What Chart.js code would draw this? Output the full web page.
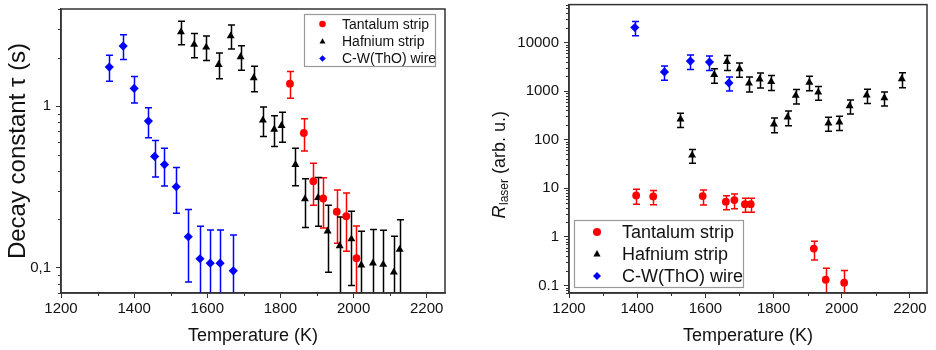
<!DOCTYPE html>
<html>
<head>
<meta charset="utf-8">
<script src="https://cdn.jsdelivr.net/npm/chart.js"></script>
<style>
  html, body { margin: 0; padding: 0; background: #fff; }
  .wrap { display: flex; width: 936px; height: 350px; }
  canvas { display: block; }
</style>
</head>
<body>
<div class="wrap">
  <canvas id="tauChart" width="468" height="350"></canvas>
  <canvas id="laserChart" width="468" height="350"></canvas>
</div>
<script>
// ---- left panel: decay constant tau (s) ----
const tauTaTemp = [1826, 1864, 1890, 1917, 1954, 1980, 2008];
const tauTa     = [1.38, 0.684, 0.344, 0.269, 0.223, 0.209, 0.115];
const tauTaErr  = [0.26, 0.155, 0.10, 0.092, 0.081, 0.082, 0.067];

const tauHfTemp = [1528, 1564, 1597, 1631, 1664, 1691, 1727, 1752, 1783, 1803, 1841, 1867, 1903, 1929, 1962, 1994, 2021, 2053, 2081, 2110, 2126];
const tauHf     = [2.88, 2.41, 2.32, 1.81, 2.72, 2.02, 1.50, 0.82, 0.72, 0.76, 0.436, 0.267, 0.272, 0.169, 0.137, 0.151, 0.104, 0.107, 0.105, 0.094, 0.130];
const tauHfErr  = [0.48, 0.41, 0.40, 0.33, 0.46, 0.35, 0.27, 0.17, 0.155, 0.16, 0.114, 0.089, 0.091, 0.075, 0.07, 0.073, 0.065, 0.066, 0.066, 0.063, 0.069];

const tauWTemp  = [1332, 1370, 1400, 1439, 1456, 1483, 1515, 1548, 1580, 1608, 1635, 1671];
const tauW      = [1.75, 2.36, 1.29, 0.81, 0.49, 0.436, 0.318, 0.156, 0.114, 0.107, 0.107, 0.096];
const tauWErr   = [0.32, 0.41, 0.24, 0.17, 0.125, 0.115, 0.10, 0.074, 0.067, 0.065, 0.065, 0.064];

// ---- right panel: R_laser (arb. u.) ----
const rTaTemp = [1397, 1447, 1592, 1660, 1685, 1716, 1733, 1918, 1953, 2007];
const rTa     = [7.1, 6.8, 6.9, 5.3, 5.7, 4.7, 4.7, 0.573, 0.131, 0.114];
const rTaErr  = [2.4, 2.2, 2.35, 1.7, 1.9, 1.5, 1.5, 0.24, 0.095, 0.09];

const rHfTemp = [1527, 1561, 1626, 1663, 1700, 1728, 1759, 1793, 1801, 1841, 1865, 1905, 1931, 1961, 1993, 2023, 2073, 2125, 2176];
const rHf     = [264, 47.6, 2170, 4020, 2850, 1445, 1750, 1560, 209, 290, 808, 1510, 944, 219, 229, 495, 820, 722, 1775];
const rHfErr  = [87, 15, 720, 1370, 940, 490, 600, 530, 70, 98, 265, 500, 300, 70, 74, 160, 265, 232, 600];

const rWTemp  = [1393, 1480, 1556, 1612, 1669];
const rW      = [20300, 2470, 4140, 3950, 1470];
const rWErr   = [6500, 800, 1370, 1300, 470];

// ---- axes ----
const seriesNames = ['Tantalum strip', 'Hafnium strip', 'C-W(ThO) wire'];
const xTicks = [1200, 1400, 1600, 1800, 2000, 2200];
const tauTicks = [0.1, 1];
const tauTickLabels = ['0,1', '1'];
const rTicks = [0.1, 1, 10, 100, 1000, 10000];
const rTickLabels = ['0.1', '1', '10', '100', '1000', '10000'];

const FONT = 'Liberation Sans, Arial, sans-serif';
const AXIS = '#333';
const colors = ['#ff0000', '#000000', '#0000ff'];
const shapes = ['circle', 'triangle', 'rectRot'];

function pts(xs, ys) { return xs.map((x, i) => ({ x: x, y: ys[i] })); }

function makeSets(list) {
  return list.map((s, i) => ({
    label: seriesNames[i],
    data: pts(s[0], s[1]),
    errors: s[2],
    pointStyle: shapes[i],
    pointRadius: i === 0 ? 3.9 : 4.6,
    backgroundColor: colors[i],
    borderColor: colors[i],
    borderWidth: 0,
    showLine: false
  }));
}

// error bars drawn under the markers, through the chart's scales
const errorBars = {
  id: 'errorBars',
  beforeDatasetsDraw(chart) {
    const ctx = chart.ctx, area = chart.chartArea;
    const xs = chart.scales.x, ys = chart.scales.y;
    ctx.save();
    ctx.beginPath();
    ctx.rect(area.left, area.top, area.right - area.left, area.bottom - area.top);
    ctx.clip();
    ctx.lineWidth = 1.5;
    chart.data.datasets.forEach(ds => {
      ctx.strokeStyle = ds.borderColor;
      ds.data.forEach((p, i) => {
        const e = ds.errors[i];
        const px = Math.round(xs.getPixelForValue(p.x)) + 0.5;
        const top = ys.getPixelForValue(p.y + e);
        const lo = p.y - e;
        const bot = lo > 0 ? ys.getPixelForValue(lo) : area.bottom + 20;
        ctx.beginPath();
        ctx.moveTo(px, top); ctx.lineTo(px, bot);
        ctx.moveTo(px - 3.5, top); ctx.lineTo(px + 3.5, top);
        ctx.moveTo(px - 3.5, bot); ctx.lineTo(px + 3.5, bot);
        ctx.stroke();
      });
    });
    ctx.restore();
  }
};

// frame and minor ticks
const frame = {
  id: 'frame',
  afterDraw(chart) {
    const ctx = chart.ctx, a = chart.chartArea;
    const xs = chart.scales.x, ys = chart.scales.y;
    ctx.save();
    ctx.strokeStyle = AXIS;
    ctx.lineWidth = 1.5;
    ctx.strokeRect(a.left, a.top, a.right - a.left, a.bottom - a.top);
    ctx.lineWidth = 1;
    ctx.beginPath();
    for (let v = 1300; v < xs.max; v += 200) {
      const px = Math.round(xs.getPixelForValue(v)) + 0.5;
      ctx.moveTo(px, a.bottom); ctx.lineTo(px, a.bottom + 3);
    }
    for (let k = -2; k <= 5; k++) {
      for (let m = 2; m <= 9; m++) {
        const v = m * Math.pow(10, k);
        if (v < ys.min || v > ys.max) continue;
        const py = Math.round(ys.getPixelForValue(v)) + 0.5;
        ctx.moveTo(a.left - 3, py); ctx.lineTo(a.left, py);
      }
    }
    ctx.stroke();
    ctx.restore();
  }
};

function drawMarker(ctx, shape, x, y, r) {
  ctx.beginPath();
  if (shape === 'circle') {
    ctx.arc(x, y, r, 0, Math.PI * 2);
  } else if (shape === 'triangle') {
    ctx.moveTo(x, y - r);
    ctx.lineTo(x + r * 0.9, y + r * 0.6);
    ctx.lineTo(x - r * 0.9, y + r * 0.6);
    ctx.closePath();
  } else {
    ctx.moveTo(x, y - r); ctx.lineTo(x + r, y); ctx.lineTo(x, y + r); ctx.lineTo(x - r, y);
    ctx.closePath();
  }
  ctx.fill();
}

function legendBox(cfg) {
  return {
    id: 'legendBox',
    afterDraw(chart) {
      const ctx = chart.ctx;
      ctx.save();
      ctx.fillStyle = '#fff';
      ctx.fillRect(cfg.x, cfg.y, cfg.w, cfg.h);
      ctx.strokeStyle = '#999';
      ctx.lineWidth = 1.2;
      ctx.strokeRect(cfg.x + 0.5, cfg.y + 0.5, cfg.w, cfg.h);
      ctx.font = cfg.size + 'px ' + FONT;
      ctx.textBaseline = 'middle';
      seriesNames.forEach((name, i) => {
        const y = cfg.rows[i];
        ctx.fillStyle = colors[i];
        drawMarker(ctx, shapes[i], cfg.mx, y, cfg.r);
        ctx.fillStyle = '#111';
        ctx.fillText(name, cfg.tx, y + 1);
      });
      ctx.restore();
    }
  };
}

// y title with subscript for the right panel
const rTitle = {
  id: 'rTitle',
  afterDraw(chart) {
    const ctx = chart.ctx;
    const big = '18px ' + FONT, small = '12px ' + FONT, ital = 'italic 18px ' + FONT;
    ctx.save();
    ctx.translate(32, 165);
    ctx.rotate(-Math.PI / 2);
    ctx.fillStyle = '#111';
    ctx.textBaseline = 'middle';
    ctx.font = ital; const w1 = ctx.measureText('R').width;
    ctx.font = small; const w2 = ctx.measureText('laser').width;
    ctx.font = big; const w3 = ctx.measureText(' (arb. u.)').width;
    let x = -(w1 + w2 + w3) / 2;
    ctx.font = ital; ctx.fillText('R', x, 0); x += w1 + 0.5;
    ctx.font = small; ctx.fillText('laser', x, 5); x += w2;
    ctx.font = big; ctx.fillText(' (arb. u.)', x, 0);
    ctx.restore();
  }
};

function xScale() {
  return {
    type: 'linear', min: 1200, max: 2250,
    afterBuildTicks: s => { s.ticks = xTicks.map(v => ({ value: v })); },
    afterFit: s => { s.height = 57; s.paddingLeft = 0; s.paddingRight = 0; },
    grid: { drawOnChartArea: false, drawTicks: true, tickLength: 5, tickColor: AXIS, tickWidth: 1 },
    border: { display: true, color: AXIS, width: 1.5 },
    ticks: {
      font: { size: 15, family: FONT }, color: '#111', padding: 2, maxRotation: 0, autoSkip: false,
      callback: v => String(v)
    },
    title: { display: true, text: 'Temperature (K)', font: { size: 18, family: FONT }, color: '#111', padding: { top: 0, bottom: 3 } }
  };
}

function yScale(min, max, vals, labels, width, title) {
  return {
    type: 'logarithmic', min: min, max: max,
    afterBuildTicks: s => { s.ticks = vals.map(v => ({ value: v })); },
    afterFit: s => { s.width = width; s.paddingTop = 0; s.paddingBottom = 0; },
    grid: { drawOnChartArea: false, drawTicks: true, tickLength: 5, tickColor: AXIS, tickWidth: 1 },
    border: { display: true, color: AXIS, width: 1.5 },
    ticks: {
      font: { size: 15, family: FONT }, color: '#111', padding: 5, autoSkip: false,
      callback: v => { const i = vals.indexOf(v); return i >= 0 ? labels[i] : ''; }
    },
    title: title
  };
}

function baseOptions(padding, yOpts) {
  return {
    responsive: false,
    animation: false,
    devicePixelRatio: 1,
    layout: { padding: padding },
    plugins: { legend: { display: false }, tooltip: { enabled: false } },
    scales: { x: xScale(), y: yOpts }
  };
}

new Chart(document.getElementById('tauChart'), {
  type: 'scatter',
  data: {
    datasets: makeSets([
      [tauTaTemp, tauTa, tauTaErr],
      [tauHfTemp, tauHf, tauHfErr],
      [tauWTemp, tauW, tauWErr]
    ])
  },
  options: baseOptions({ top: 9, right: 23, left: 0, bottom: 0 },
    yScale(0.07, 4, tauTicks, tauTickLabels, 61, {
      display: true, text: 'Decay constant \u03c4 (s)',
      font: { size: 24, family: FONT }, color: '#111', padding: { top: 4, bottom: 0 }
    })),
  plugins: [errorBars, frame,
    legendBox({ x: 304, y: 14, w: 131, h: 52, rows: [24, 41.5, 58.5], mx: 322.5, tx: 342, size: 14, r: 3.3 })]
});

new Chart(document.getElementById('laserChart'), {
  type: 'scatter',
  data: {
    datasets: makeSets([
      [rTaTemp, rTa, rTaErr],
      [rHfTemp, rHf, rHfErr],
      [rWTemp, rW, rWErr]
    ])
  },
  options: baseOptions({ top: 4, right: 9, left: 0, bottom: 0 },
    yScale(0.07, 60000, rTicks, rTickLabels, 101, { display: false })),
  plugins: [errorBars, frame, rTitle,
    legendBox({ x: 106, y: 220, w: 169, h: 67, rows: [232, 254, 276], mx: 129, tx: 154, size: 18, r: 4 })]
});
</script>
</body>
</html>
